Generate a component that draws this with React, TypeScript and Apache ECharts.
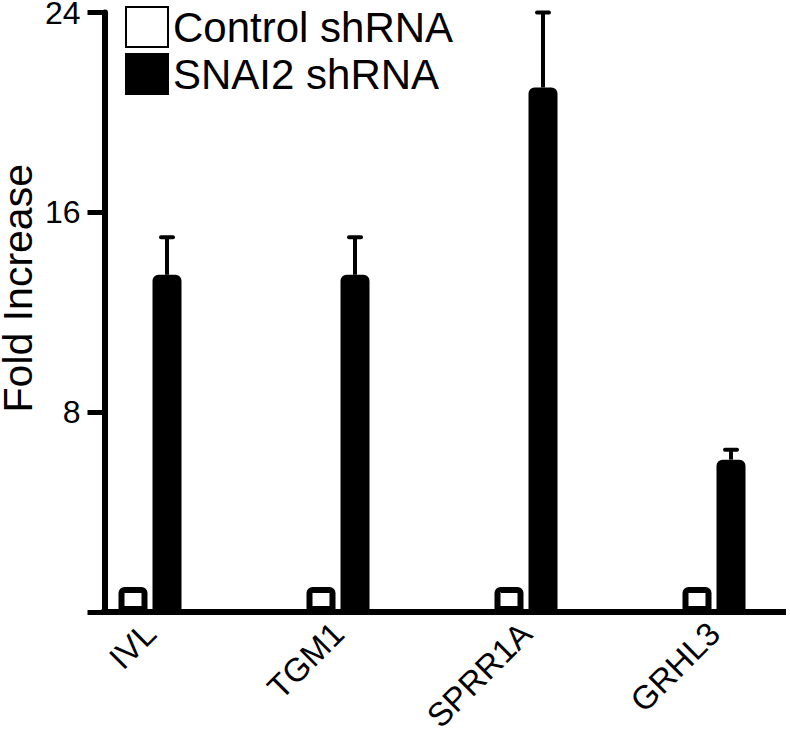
import React, { useEffect, useRef } from "react";
import * as echarts from "echarts";

const categories = ["IVL", "TGM1", "SPRR1A", "GRHL3"];
const controlValues = [1, 1, 1, 1];
const snai2Values = [13.5, 13.5, 21.0, 6.1];
const snai2Errors = [1.5, 1.5, 3.0, 0.4];
const yTicks = { min: 0, max: 24, interval: 8 };
const seriesNames = ["Control shRNA", "SNAI2 shRNA"];
const yAxisTitle = "Fold Increase";

const W = 790;
const H = 729;
const GRID_LEFT = 56;
const BAND = 188;
const AXIS_X = 104.5;
const BAR_W = 29;
const BAR_GAP_PX = 5;
const FONT = "'Liberation Sans', Arial, Helvetica, sans-serif";

export default function App() {
  const ref = useRef<HTMLDivElement>(null);

  useEffect(() => {
    if (!ref.current) return;
    const chart = echarts.init(ref.current, undefined, { renderer: "svg" });
    const snaiOffset = (BAR_W + BAR_GAP_PX) / 2;
    const barGap = `${(BAR_GAP_PX / BAR_W) * 100}%`;
    const errData = categories.map((_, i) => [i, snai2Values[i], snai2Values[i] + snai2Errors[i]]);

    chart.setOption({
      animation: false,
      backgroundColor: "#fff",
      grid: {
        left: GRID_LEFT,
        width: BAND * categories.length,
        top: 12.5,
        bottom: 117,
        containLabel: false,
        outerBoundsMode: "none",
      },
      legend: {
        data: seriesNames,
        orient: "vertical",
        left: 125,
        top: 6,
        padding: 0,
        icon: "rect",
        itemWidth: 42,
        itemHeight: 40,
        itemGap: 5,
        selectedMode: false,
        textStyle: { fontSize: 42, fontFamily: FONT, color: "#000" },
      },
      xAxis: {
        type: "category",
        data: categories,
        axisLine: { show: false },
        axisTick: { show: false },
        axisLabel: {
          rotate: 45,
          fontSize: 33,
          fontFamily: FONT,
          color: "#000",
          margin: 16,
          padding: [20, 0, 0, 0],
          interval: 0,
        },
      },
      yAxis: {
        type: "value",
        min: yTicks.min,
        max: yTicks.max,
        interval: yTicks.interval,
        offset: -(AXIS_X - GRID_LEFT),
        name: yAxisTitle,
        nameLocation: "middle",
        nameRotate: 90,
        nameGap: 66,
        nameMoveOverlap: false,
        nameTextStyle: { fontSize: 41, fontFamily: FONT, color: "#000", padding: [0, 0, 0, 48] },
        axisLine: { show: true, lineStyle: { color: "#000", width: 6 } },
        axisTick: { show: true, length: 17, lineStyle: { color: "#000", width: 5 } },
        axisLabel: {
          fontSize: 32,
          fontFamily: FONT,
          color: "#000",
          margin: 24,
          lineHeight: 16,
          padding: [8, 0, 0, 0],
          formatter: (v: number) => (v === 0 ? "" : String(v)),
        },
        splitLine: { show: false },
      },
      series: [
        {
          name: seriesNames[0],
          type: "bar",
          data: controlValues,
          barWidth: BAR_W,
          barGap,
          itemStyle: {
            color: "#fff",
            borderColor: "#000",
            borderWidth: 6,
            borderRadius: [3, 3, 0, 0],
          },
        },
        {
          name: seriesNames[1],
          type: "bar",
          data: snai2Values,
          barWidth: BAR_W,
          barGap,
          itemStyle: {
            color: "#000",
            borderColor: "#000",
            borderWidth: 6,
            borderRadius: [3, 3, 0, 0],
          },
        },
        {
          type: "custom",
          name: "err",
          data: errData,
          encode: { x: 0, y: [1, 2] },
          z: 3,
          renderItem: (params: any, api: any) => {
            const idx = api.value(0);
            const base = api.coord([idx, api.value(1)]);
            const top = api.coord([idx, api.value(2)]);
            const x = base[0] + snaiOffset;
            return {
              type: "group",
              children: [
                {
                  type: "line",
                  shape: { x1: x, y1: base[1], x2: x, y2: top[1] },
                  style: { stroke: "#000", lineWidth: 4 },
                },
                {
                  type: "line",
                  shape: { x1: x - 6, y1: top[1], x2: x + 6, y2: top[1] },
                  style: { stroke: "#000", lineWidth: 4, lineCap: "round" },
                },
              ],
            };
          },
        },
      ],
    });

    const y0 = chart.convertToPixel({ yAxisIndex: 0 }, 0) as number;
    chart.setOption({
      graphic: [
        {
          type: "line",
          shape: { x1: AXIS_X - 3, y1: y0, x2: 786, y2: y0 },
          style: { stroke: "#000", lineWidth: 6 },
          z: 10,
        },
      ],
    });

    return () => chart.dispose();
  }, []);

  return (
    <div
      ref={ref}
      style={{ position: "fixed", left: 0, top: 0, width: W, height: H, background: "#fff" }}
    />
  );
}
